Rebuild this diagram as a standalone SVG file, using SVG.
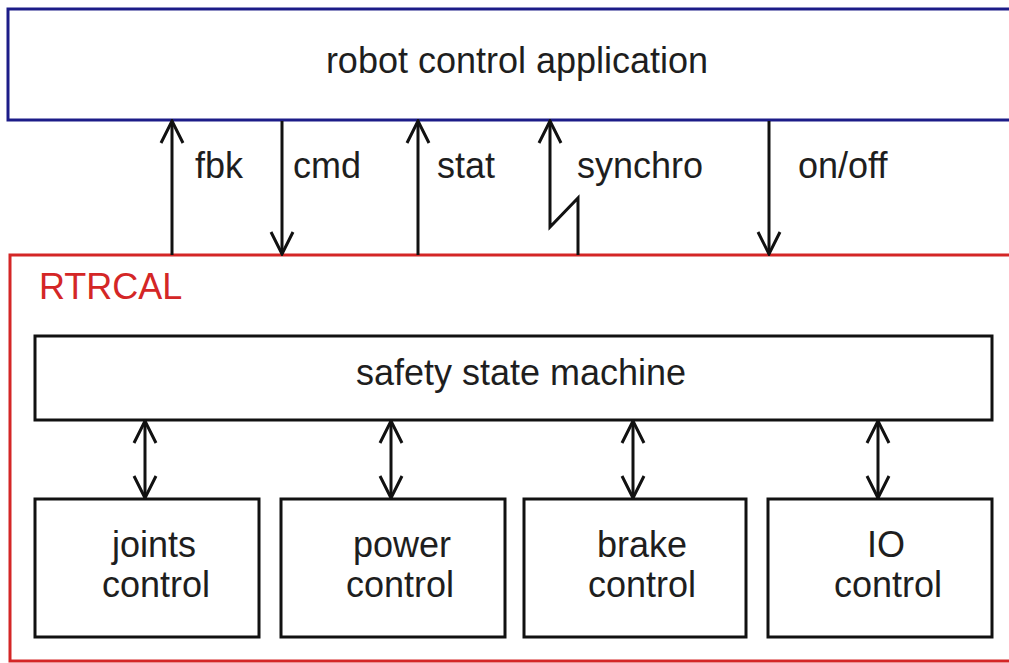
<svg xmlns="http://www.w3.org/2000/svg" width="1009" height="663" viewBox="0 0 1009 663">
<defs>
<style>
text{font-family:"Liberation Sans",Arial,sans-serif;font-size:36px;fill:#1e1e1e}
.box{fill:#fff;stroke:#111;stroke-width:3}
.c{text-anchor:middle}
.ln{fill:none;stroke:#111;stroke-width:3}
</style>
<marker id="ah" viewBox="-25 -13 27 26" refX="0" refY="0" markerWidth="27" markerHeight="26" markerUnits="userSpaceOnUse" orient="auto-start-reverse">
<path d="M-22,-11 L0,0 L-22,11" fill="none" stroke="#111" stroke-width="3"/>
</marker>
</defs>
<rect width="1009" height="663" fill="#fff"/>
<g id="app">
<rect x="8" y="9" width="1010" height="111" fill="#fff" stroke="#1c1c88" stroke-width="3"/>
<text class="c" x="517" y="73">robot control application</text>
</g>
<g id="rtrcal">
<rect x="10" y="255" width="1010" height="406" fill="#fff" stroke="#d42626" stroke-width="3"/>
<text x="39" y="299" style="fill:#d42626">RTRCAL</text>
</g>
<g id="safety">
<rect class="box" x="35" y="336" width="957" height="84"/>
<text class="c" x="521" y="385">safety state machine</text>
</g>
<g id="joints">
<rect class="box" x="35" y="499" width="224" height="138"/>
<text class="c" x="154" y="557">joints</text>
<text class="c" x="156" y="597">control</text>
</g>
<g id="power">
<rect class="box" x="281" y="499" width="224" height="138"/>
<text class="c" x="402" y="557">power</text>
<text class="c" x="400" y="597">control</text>
</g>
<g id="brake">
<rect class="box" x="524" y="499" width="222" height="138"/>
<text class="c" x="642" y="557">brake</text>
<text class="c" x="642" y="597">control</text>
</g>
<g id="io">
<rect class="box" x="768" y="499" width="224" height="138"/>
<text class="c" x="886" y="557">IO</text>
<text class="c" x="888" y="597">control</text>
</g>
<g id="connectors">
<line class="ln" x1="172" y1="255" x2="172" y2="121" marker-end="url(#ah)"/>
<line class="ln" x1="282" y1="121" x2="282" y2="254" marker-end="url(#ah)"/>
<line class="ln" x1="418" y1="255" x2="418" y2="121" marker-end="url(#ah)"/>
<polyline class="ln" points="578,255 578,198 550,227 550,121" marker-end="url(#ah)"/>
<line class="ln" x1="769" y1="121" x2="769" y2="254" marker-end="url(#ah)"/>
<line class="ln" x1="145" y1="421" x2="145" y2="498" marker-start="url(#ah)" marker-end="url(#ah)"/>
<line class="ln" x1="391" y1="421" x2="391" y2="498" marker-start="url(#ah)" marker-end="url(#ah)"/>
<line class="ln" x1="633" y1="421" x2="633" y2="498" marker-start="url(#ah)" marker-end="url(#ah)"/>
<line class="ln" x1="878" y1="421" x2="878" y2="498" marker-start="url(#ah)" marker-end="url(#ah)"/>
<text x="195" y="178">fbk</text>
<text x="293" y="178">cmd</text>
<text x="437" y="178">stat</text>
<text x="577" y="178">synchro</text>
<text x="798" y="178">on/off</text>
</g>
</svg>
